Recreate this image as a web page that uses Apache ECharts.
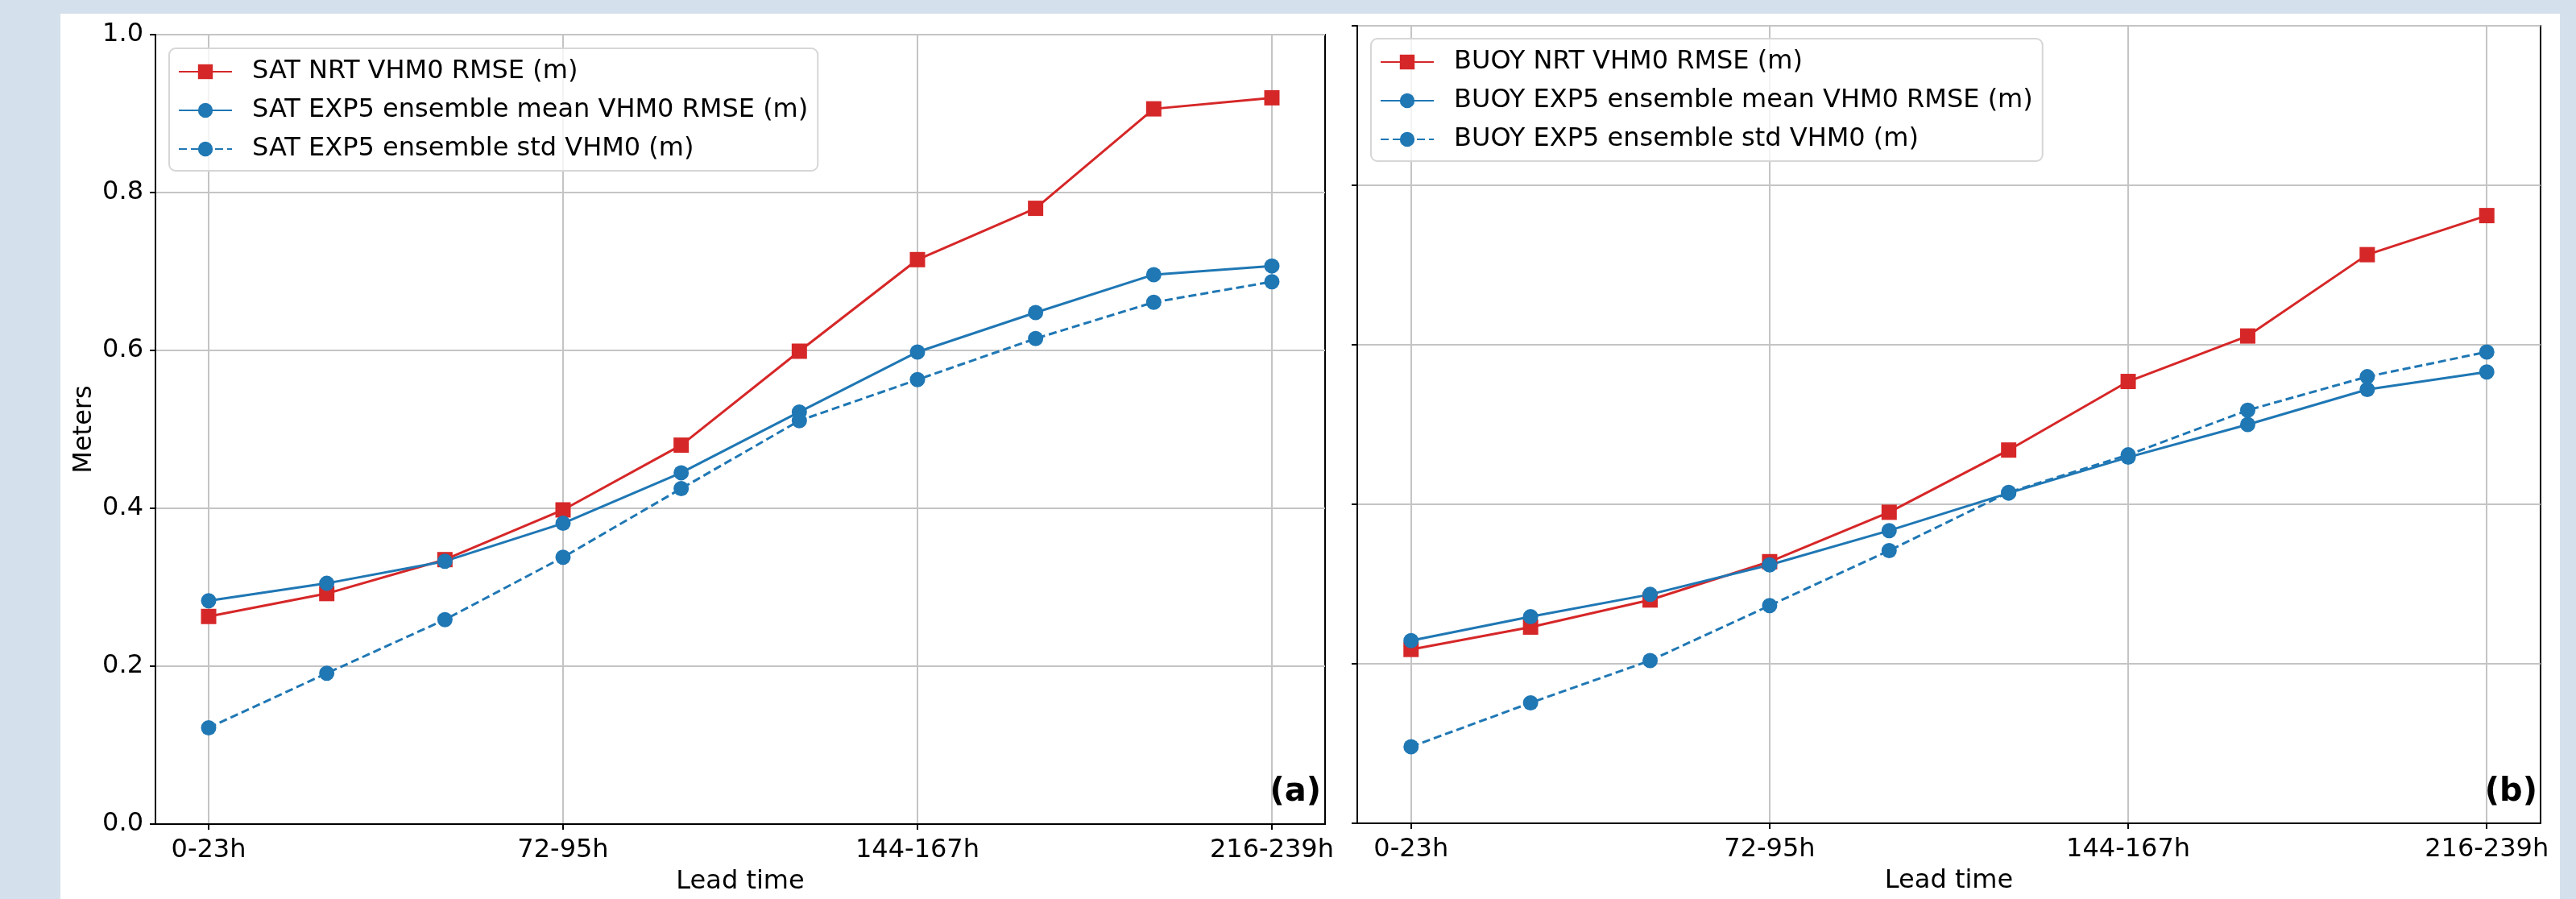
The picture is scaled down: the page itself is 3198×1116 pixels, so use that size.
<!DOCTYPE html>
<html>
<head>
<meta charset="utf-8">
<script src="https://cdn.jsdelivr.net/npm/echarts@6/dist/echarts.min.js"></script>
<style>
html, body { margin: 0; padding: 0; background: #d4e1ec; overflow: hidden; }
#panel { position: absolute; left: 75px; top: 17px; width: 3103px; height: 1099px; background: #fff; }
#chart { position: absolute; left: 0; top: 0; width: 3198px; height: 1116px; }
</style>
</head>
<body>
<div id="panel"></div>
<div id="chart"></div>
<script>
// lead time bins (x categories), only every third one is labelled
var leadTimes = ['0-23h', '24-47h', '48-71h', '72-95h', '96-119h', '120-143h', '144-167h', '168-191h', '192-215h', '216-239h'];
var shownTicks = [0, 3, 6, 9];

// (a) satellite
var satNrt = [0.263, 0.292, 0.335, 0.398, 0.480, 0.599, 0.715, 0.780, 0.906, 0.920];
var satMean = [0.283, 0.305, 0.333, 0.381, 0.445, 0.522, 0.598, 0.648, 0.696, 0.707];
var satStd = [0.122, 0.191, 0.259, 0.338, 0.425, 0.511, 0.563, 0.615, 0.661, 0.687];

// (b) buoys
var buoyNrt = [0.218, 0.246, 0.280, 0.328, 0.390, 0.468, 0.554, 0.611, 0.713, 0.762];
var buoyMean = [0.229, 0.259, 0.287, 0.324, 0.367, 0.414, 0.459, 0.500, 0.544, 0.566];
var buoyStd = [0.096, 0.151, 0.204, 0.273, 0.342, 0.415, 0.462, 0.518, 0.560, 0.591];

var RED = '#d62728', BLUE = '#1f77b4';
var FONT = 'DejaVu Sans';

function pairs(vals) {
    return vals.map(function (v, i) { return [i, v]; });
}

function xAxisFor(grid) {
    return {
        gridIndex: grid,
        type: 'value',
        min: -0.45,
        max: 9.45,
        name: 'Lead time',
        nameLocation: 'middle',
        nameGap: 56,
        nameTextStyle: { fontFamily: FONT, fontSize: 32, color: '#000' },
        axisLine: { show: true, onZero: false, lineStyle: { color: '#000', width: 2 } },
        axisTick: { show: true, length: 7, customValues: shownTicks, lineStyle: { color: '#000', width: 2 } },
        axisLabel: {
            customValues: shownTicks,
            margin: 17,
            fontFamily: FONT, fontSize: 32, color: '#000',
            formatter: function (v) { return leadTimes[Math.round(v)]; }
        },
        splitLine: { show: true, lineStyle: { color: '#c4c4c4', width: 2 } }
    };
}

function yAxisFor(grid, labels) {
    var ax = {
        gridIndex: grid,
        type: 'value',
        min: 0,
        max: 1,
        interval: 0.2,
        axisLine: { show: true, onZero: false, lineStyle: { color: '#000', width: 2 } },
        axisTick: { show: true, length: 7, lineStyle: { color: '#000', width: 2 } },
        axisLabel: {
            show: labels,
            margin: 15,
            fontFamily: FONT, fontSize: 32, color: '#000',
            formatter: function (v) { return v.toFixed(1); }
        },
        splitLine: { show: true, lineStyle: { color: '#c4c4c4', width: 2 } }
    };
    if (labels) {
        ax.name = 'Meters';
        ax.nameLocation = 'middle';
        ax.nameGap = 72;
        ax.nameTextStyle = { fontFamily: FONT, fontSize: 32, color: '#000' };
    }
    return ax;
}

function lineSeries(name, vals, grid, color, symbol, dashed) {
    return {
        name: name,
        type: 'line',
        xAxisIndex: grid,
        yAxisIndex: grid,
        data: pairs(vals),
        symbol: symbol,
        symbolSize: 19,
        color: color,
        itemStyle: { color: color },
        lineStyle: { color: color, width: 3, type: dashed ? [10, 5] : 'solid' },
        emphasis: { disabled: true }
    };
}

function legendFor(left, top, names) {
    return {
        orient: 'vertical',
        left: left,
        top: top,
        data: names,
        itemWidth: 66,
        itemHeight: 23,
        itemGap: 16,
        padding: [13, 12, 11, 11],
        backgroundColor: 'rgba(255,255,255,0.8)',
        borderColor: '#d6d6d6',
        borderWidth: 2,
        borderRadius: 8,
        selectedMode: false,
        textStyle: { fontFamily: FONT, fontSize: 32, color: '#000', lineHeight: 32, padding: [0, 0, 0, 20] }
    };
}

var satNames = ['SAT NRT VHM0 RMSE (m)', 'SAT EXP5 ensemble mean VHM0 RMSE (m)', 'SAT EXP5 ensemble std VHM0 (m)'];
var buoyNames = ['BUOY NRT VHM0 RMSE (m)', 'BUOY EXP5 ensemble mean VHM0 RMSE (m)', 'BUOY EXP5 ensemble std VHM0 (m)'];

var myChart = echarts.init(document.getElementById('chart'));
var option = {
    animation: false,
    grid: [
        { left: 193, top: 43, width: 1452, height: 980, show: true, borderColor: '#000', borderWidth: 2, backgroundColor: 'transparent' },
        { left: 1685, top: 32, width: 1469, height: 990, show: true, borderColor: '#000', borderWidth: 2, backgroundColor: 'transparent' }
    ],
    xAxis: [xAxisFor(0), xAxisFor(1)],
    yAxis: [yAxisFor(0, true), yAxisFor(1, false)],
    legend: [legendFor(210, 60, satNames), legendFor(1702, 48, buoyNames)],
    series: [
        lineSeries(satNames[0], satNrt, 0, RED, 'rect', false),
        lineSeries(satNames[1], satMean, 0, BLUE, 'circle', false),
        lineSeries(satNames[2], satStd, 0, BLUE, 'circle', true),
        lineSeries(buoyNames[0], buoyNrt, 1, RED, 'rect', false),
        lineSeries(buoyNames[1], buoyMean, 1, BLUE, 'circle', false),
        lineSeries(buoyNames[2], buoyStd, 1, BLUE, 'circle', true)
    ],
    graphic: [
        { type: 'text', z: 100, style: { text: '(a)', x: 1640, y: 1004, textAlign: 'right', textVerticalAlign: 'bottom', font: 'bold 40px "DejaVu Sans"', fill: '#000' } },
        { type: 'text', z: 100, style: { text: '(b)', x: 3150, y: 1004, textAlign: 'right', textVerticalAlign: 'bottom', font: 'bold 40px "DejaVu Sans"', fill: '#000' } }
    ]
};
myChart.setOption(option);
</script>
</body>
</html>
